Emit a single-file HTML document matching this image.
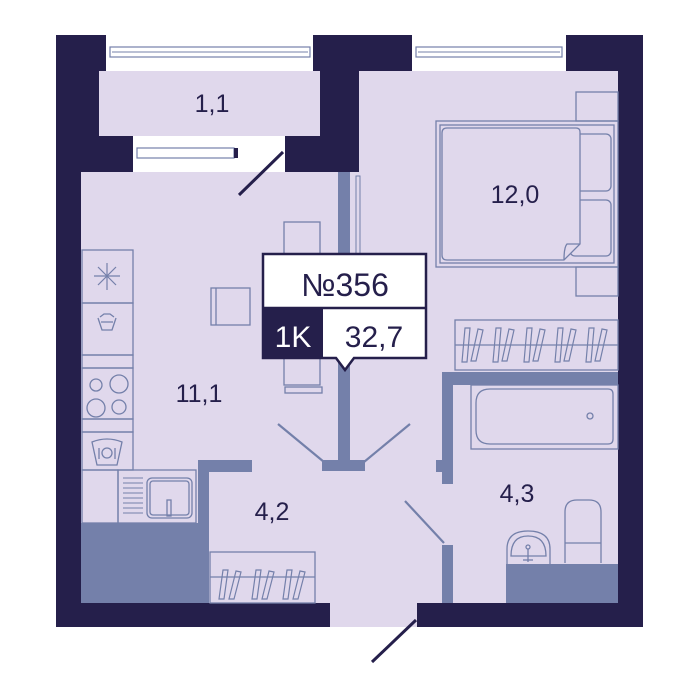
<!DOCTYPE html>
<html><head><meta charset="utf-8"><style>body{margin:0;background:#fff}svg{display:block}text{font-family:"Liberation Sans",sans-serif}</style></head>
<body>
<svg width="700" height="700" viewBox="0 0 700 700" xmlns="http://www.w3.org/2000/svg">
<rect width="700" height="700" fill="#fff"/>
<!-- outer walls -->
<rect x="56" y="35" width="587" height="592" fill="#251f4b"/>
<!-- windows -->
<rect x="106" y="35" width="207" height="36" fill="#fff"/>
<rect x="110" y="47" width="200" height="10" fill="none" stroke="#7480aa" stroke-width="1.2"/>
<line x1="112" y1="52" x2="308" y2="52" stroke="#7480aa"/>
<rect x="412" y="35" width="154" height="36" fill="#fff"/>
<rect x="416" y="47" width="146" height="10" fill="none" stroke="#7480aa" stroke-width="1.2"/>
<line x1="418" y1="52" x2="560" y2="52" stroke="#7480aa"/>
<!-- balcony -->
<rect x="99" y="71" width="221" height="65" fill="#e0d8ec"/>
<rect x="133" y="136" width="152" height="36" fill="#fff"/>
<rect x="137" y="148" width="97" height="10" fill="none" stroke="#7480aa" stroke-width="1.2"/>
<rect x="234" y="148" width="4" height="10" fill="#251f4b"/>
<!-- floors -->
<rect x="81" y="172" width="278" height="431" fill="#e0d8ec"/>
<rect x="359" y="71" width="259" height="532" fill="#e0d8ec"/>
<rect x="330" y="600" width="87" height="27" fill="#e0d8ec"/>
<!-- kitchen grey -->
<rect x="81" y="523" width="128" height="80" fill="#7480aa"/>
<rect x="198" y="460" width="11" height="143" fill="#7480aa"/>
<rect x="198" y="460" width="54" height="12" fill="#7480aa"/>
<!-- kitchen cabinets -->
<g fill="none" stroke="#7480aa" stroke-width="1.3">
<rect x="82" y="250" width="51" height="53"/>
<rect x="82" y="303" width="51" height="52"/>
<rect x="82" y="355" width="51" height="13"/>
<rect x="82" y="368" width="51" height="51"/>
<rect x="82" y="419" width="51" height="13"/>
<rect x="82" y="432" width="51" height="38"/>
<rect x="82" y="470" width="36" height="53"/>
<rect x="118" y="470" width="78" height="53"/>
<rect x="147" y="478" width="45" height="40" rx="5"/>
<rect x="150" y="481" width="39" height="34" rx="3"/>
<rect x="167" y="500" width="4" height="16"/>
<g stroke-width="1"><line x1="123" y1="478" x2="143" y2="478"/><line x1="123" y1="483" x2="143" y2="483"/><line x1="123" y1="488" x2="143" y2="488"/><line x1="123" y1="493" x2="143" y2="493"/><line x1="123" y1="498" x2="143" y2="498"/><line x1="123" y1="503" x2="143" y2="503"/><line x1="123" y1="508" x2="143" y2="508"/><line x1="123" y1="513" x2="143" y2="513"/></g>
<circle cx="96" cy="385" r="6"/><circle cx="119" cy="384" r="9"/><circle cx="96" cy="408" r="9"/><circle cx="119" cy="407" r="7"/>
<path d="M92 442 Q107 436 122 442 L117 465 L97 465 Z"/><circle cx="107" cy="453" r="5"/><line x1="99" y1="448" x2="99" y2="459"/><line x1="115" y1="448" x2="115" y2="459"/>
<path d="M98 318 L102 330 L112 330 L116 318 M100 317 L104 314 L110 314 L114 317 M101 322 L113 322"/>
<g stroke-width="1.2"><line x1="107" y1="263" x2="107" y2="290"/><line x1="94" y1="276" x2="120" y2="276"/><line x1="98" y1="267" x2="116" y2="285"/><line x1="116" y1="267" x2="98" y2="285"/></g>
<!-- dining -->
<rect x="211" y="288" width="39" height="37"/><line x1="216" y1="288" x2="216" y2="325"/>
<rect x="284" y="222" width="36" height="163"/>
<rect x="285" y="387" width="37" height="6"/>
</g>
<!-- partition -->
<rect x="338" y="172" width="12" height="295" fill="#7480aa"/>
<rect x="322" y="460" width="43" height="11" fill="#7480aa"/>
<rect x="356" y="176" width="4" height="85" fill="none" stroke="#7480aa"/>
<g stroke="#7480aa" stroke-width="2.2">
<line x1="278" y1="424" x2="324" y2="462"/><line x1="410" y1="424" x2="364" y2="462"/>
<line x1="405" y1="501" x2="444" y2="543"/>
</g>
<!-- bathroom walls -->
<rect x="442" y="372" width="11" height="112" fill="#7480aa"/>
<rect x="442" y="372" width="176" height="13" fill="#7480aa"/>
<rect x="436" y="460" width="8" height="12" fill="#7480aa"/>
<rect x="442" y="545" width="11" height="58" fill="#7480aa"/>
<rect x="506" y="564" width="112" height="39" fill="#7480aa"/>
<g fill="none" stroke="#7480aa" stroke-width="1.3">
<rect x="455" y="320" width="163" height="50"/><line x1="455" y1="345" x2="618" y2="345"/>
<rect x="471" y="385" width="147" height="64"/>
<path d="M490 389 L608 389 Q613 389 613 394 L613 439 Q613 444 608 444 L490 444 Q476 444 476 430 L476 403 Q476 389 490 389 Z"/>
<circle cx="590" cy="416" r="3"/>
<path d="M507 564 L507 549 Q507 531 528 531 Q550 531 550 549 L550 564"/>
<path d="M511 556 Q511 536 528 536 Q546 536 546 556 Z"/>
<circle cx="528" cy="547" r="2"/><line x1="528" y1="549" x2="528" y2="562"/><line x1="523" y1="560" x2="533" y2="560"/>
<path d="M565 563 L565 512 Q565 500 577 500 L589 500 Q601 500 601 512 L601 563"/><line x1="565" y1="543" x2="601" y2="543"/>
<rect x="210" y="552" width="105" height="51"/><line x1="210" y1="577" x2="315" y2="577"/>
<!-- bed -->
<rect x="436" y="121" width="182" height="146"/>
<rect x="440" y="125" width="174" height="138"/>
<rect x="576" y="92" width="42" height="29"/><rect x="576" y="267" width="42" height="29"/>
<rect x="570" y="134" width="41" height="57" rx="5"/><rect x="570" y="200" width="41" height="56" rx="5"/>
<path d="M447 128 L576 128 Q580 128 580 132 L580 244 L564 260 L447 260 Q442 260 442 255 L442 133 Q442 128 447 128 Z" fill="#e0d8ec"/>
<path d="M580 244 L567 244 Q564 247 564 260"/>
</g>
<g fill="none" stroke="#7480aa" stroke-width="1.2">
<path d="M223 570 L219 599 L224 599 L228 570 Z M236 571 L229 599 L234 599 L241 572 Z M256 570 L252 599 L257 599 L261 570 Z M269 571 L262 599 L267 599 L274 572 Z M287 570 L283 599 L288 599 L292 570 Z M300 571 L293 599 L298 599 L305 572 Z"/>
<path d="M465 328 L462 362 L467 362 L470 328 Z M478 329 L471 361 L476 361 L483 330 Z M496 328 L493 362 L498 362 L501 328 Z M509 329 L502 361 L507 361 L514 330 Z M527 328 L524 362 L529 362 L532 328 Z M540 329 L533 361 L538 361 L545 330 Z M558 328 L555 362 L560 362 L563 328 Z M571 329 L564 361 L569 361 L576 330 Z M589 328 L586 362 L591 362 L594 328 Z M602 329 L595 361 L600 361 L607 330 Z"/>
</g>
<!-- door swings dark -->
<g stroke="#251f4b" stroke-width="3">
<line x1="239" y1="195" x2="283" y2="152"/>
<line x1="372" y1="662" x2="416" y2="620"/>
</g>
<!-- labels -->
<g fill="#251f4b" font-size="25" text-anchor="middle">
<text x="212" y="112">1,1</text>
<text x="515" y="203">12,0</text>
<text x="199" y="402">11,1</text>
<text x="272" y="520">4,2</text>
<text x="517" y="502">4,3</text>
</g>
<!-- tag -->
<path d="M263 254 L426 254 L426 358 L354 358 L345 370 L336 358 L263 358 Z" fill="#fff" stroke="#251f4b" stroke-width="2.5"/>
<line x1="263" y1="308" x2="426" y2="308" stroke="#251f4b" stroke-width="2.5"/>
<rect x="263" y="308" width="60" height="50" fill="#251f4b"/>
<text x="345" y="296" font-size="32" fill="#251f4b" text-anchor="middle">№356</text>
<text x="293" y="347" font-size="30" fill="#fff" text-anchor="middle">1K</text>
<text x="374" y="347" font-size="30" fill="#251f4b" text-anchor="middle">32,7</text>
</svg>
</body></html>
